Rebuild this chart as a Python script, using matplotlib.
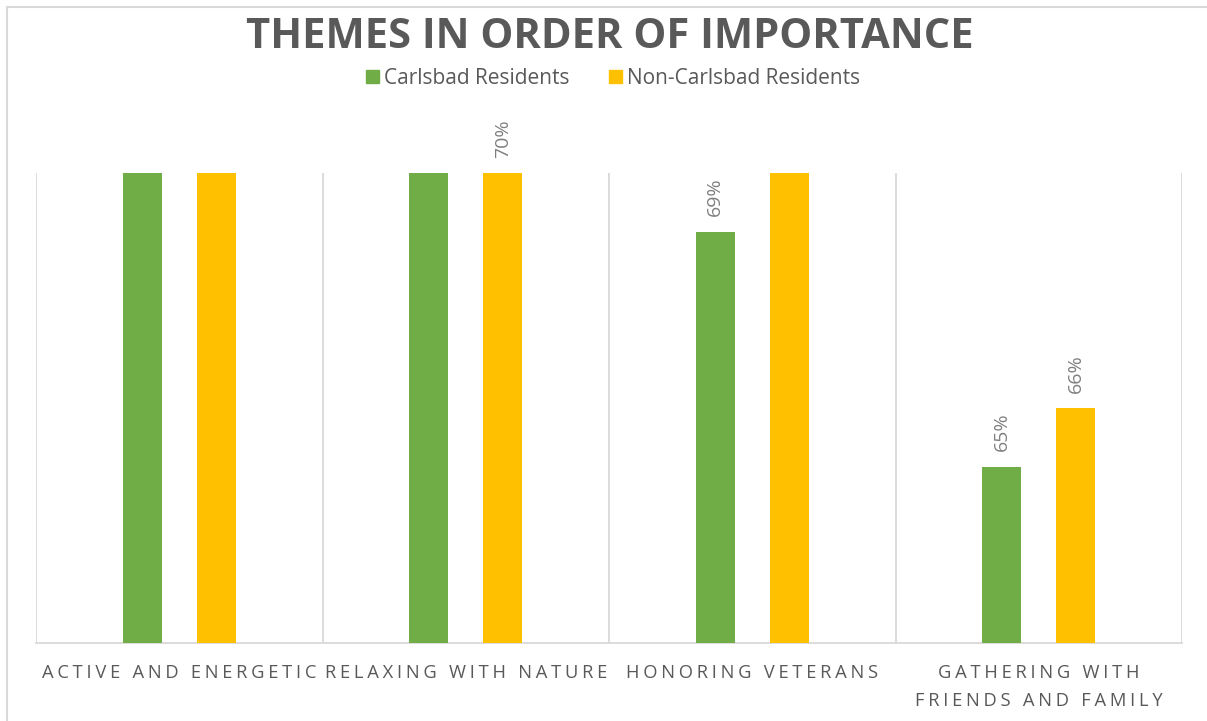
import matplotlib.pyplot as plt
import numpy as np
from matplotlib.patches import Patch, Rectangle

# Chart data
categories = ['ACTIVE AND ENERGETIC', 'RELAXING WITH NATURE',
              'HONORING VETERANS', 'GATHERING WITH\nFRIENDS AND FAMILY']
series_names = ['Carlsbad Residents', 'Non-Carlsbad Residents']
carlsbad = [75, 72, 69, 65]
non_carlsbad = [74, 70, 71, 66]
y_min, y_max = 62, 70

green = '#70AD47'
yellow = '#FFC000'
text_gray = '#595959'
label_gray = '#7F7F7F'
grid_gray = '#D9D9D9'

plt.rcParams['font.family'] = ['Open Sans', 'DejaVu Sans']


def spaced(s, gap='\u200a\u200a'):
    # emulate the wide letter spacing of the original labels
    return '\n'.join(gap.join(line) for line in s.split('\n'))


fig = plt.figure(figsize=(12.07, 7.21), dpi=100)
ax = fig.add_axes([36 / 1207, 78 / 721, 1146 / 1207, 470 / 721])

x = np.arange(len(categories))
width = 0.136
off = 0.129
b1 = ax.bar(x - off, carlsbad, width, color=green, label=series_names[0], zorder=3)
b2 = ax.bar(x + off, non_carlsbad, width, color=yellow, label=series_names[1], zorder=3)

ax.set_ylim(y_min, y_max)
ax.set_xlim(-0.5, len(categories) - 0.5)

# data labels, only for bars that fit in the plot
for bars, vals in ((b1, carlsbad), (b2, non_carlsbad)):
    for rect, v in zip(bars, vals):
        if v <= y_max:
            ax.annotate(f'{v}%', (rect.get_x() + rect.get_width() / 2, v),
                        xytext=(0, 11), textcoords='offset points',
                        rotation=90, ha='center', va='bottom',
                        fontsize=14, color=label_gray, annotation_clip=False)

# vertical separators between categories
for b in np.arange(-0.5, len(categories), 1.0):
    ax.axvline(b, color=grid_gray, lw=1.3, zorder=1)

for s in ('top', 'left', 'right'):
    ax.spines[s].set_visible(False)
ax.spines['bottom'].set_color(grid_gray)
ax.spines['bottom'].set_linewidth(1.3)
ax.set_yticks([])
ax.set_xticks(x)
ax.set_xticklabels([spaced(c) for c in categories], fontsize=13.2,
                   color=text_gray, linespacing=1.7)
ax.tick_params(axis='x', length=0, pad=15)

fig.text(0.505, 0.948, 'THEMES IN ORDER OF IMPORTANCE', ha='center', va='center',
         fontsize=30, fontweight='bold', color=text_gray)

handles = [Patch(color=green), Patch(color=yellow)]
fig.legend(handles, series_names, loc='center', bbox_to_anchor=(0.508, 0.891),
           ncol=2, frameon=False, fontsize=15, handlelength=0.6, handleheight=0.6,
           handletextpad=0.25, columnspacing=1.9, labelcolor=text_gray)

# chart border
fig.patches.append(Rectangle((7 / 1207, -0.1), 1.2, (714 / 721) + 0.1,
                             transform=fig.transFigure, fill=False,
                             edgecolor=grid_gray, lw=1.5))

fig.savefig('out.png', dpi=100)
